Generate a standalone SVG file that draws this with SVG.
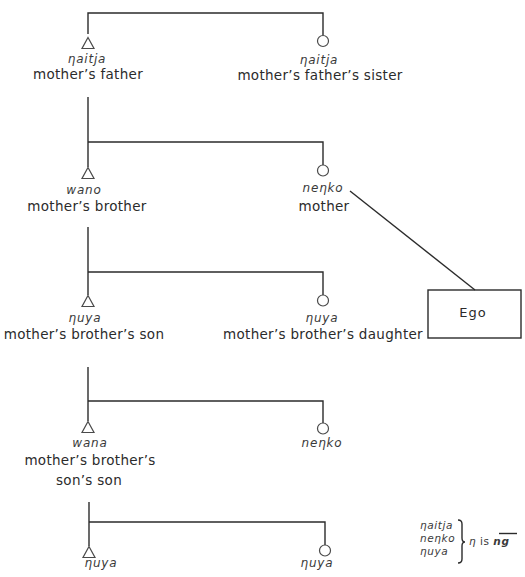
<svg xmlns="http://www.w3.org/2000/svg" xmlns:xlink="http://www.w3.org/1999/xlink" width="525" height="577" viewBox="0 0 525 577">
  <style>
    .ln { stroke: #2b2b2b; stroke-width: 1.4; fill: none; }
    .sym { stroke: #4a4a4a; stroke-width: 1.2; fill: #fff; }
    .lbl { font-family: "DejaVu Sans", "Liberation Sans", sans-serif; font-size: 13.5px; fill: #2b2b2b; text-anchor: middle; letter-spacing: 0.3px; }
    .term { font-family: "DejaVu Sans", "Liberation Sans", sans-serif; font-style: italic; font-size: 12px; fill: #3a3a3a; text-anchor: middle; letter-spacing: 0.8px; }
    .key { text-anchor: start; font-size: 10.5px; letter-spacing: 0.6px; }
    .ego { font-family: "DejaVu Sans", "Liberation Sans", sans-serif; font-size: 13px; fill: #2b2b2b; text-anchor: middle; letter-spacing: 1px; }
  </style>
  <defs>
    <!-- male: triangle centred on its use point -->
    <path id="male" d="M0,-5.5 L6,5.5 L-6,5.5 Z"/>
  </defs>
  <rect width="525" height="577" fill="#fff"/>

  <g id="connectors" class="ln">
    <path d="M88,34 V13 H323 V35"/>
    <path d="M88,97 V167"/>
    <path d="M88,142 H323 V165"/>
    <path d="M88,227 V295"/>
    <path d="M88,272 H323 V295"/>
    <path d="M88,367 V421"/>
    <path d="M88,401 H323 V423"/>
    <path d="M89,502 V546"/>
    <path d="M89,522 H325 V545"/>
    <path d="M350,191 L475,290"/>
  </g>

  <g id="mothers-father">
    <use xlink:href="#male" x="88" y="43" class="sym"/>
    <text class="term" x="87" y="63">ηaitja</text>
    <text class="lbl" x="88" y="79">mother’s father</text>
  </g>

  <g id="mothers-fathers-sister">
    <circle cx="323" cy="41" r="5.5" class="sym"/>
    <text class="term" x="319" y="64">ηaitja</text>
    <text class="lbl" x="320" y="80">mother’s father’s sister</text>
  </g>

  <g id="mothers-brother">
    <use xlink:href="#male" x="88" y="173" class="sym"/>
    <text class="term" x="84" y="194">wano</text>
    <text class="lbl" x="87" y="211">mother’s brother</text>
  </g>

  <g id="mother">
    <circle cx="323" cy="170.5" r="5.5" class="sym"/>
    <text class="term" x="323" y="192">neηko</text>
    <text class="lbl" x="324" y="211">mother</text>
  </g>

  <g id="ego">
    <rect x="428" y="290" width="93" height="48" class="ln"/>
    <text class="ego" x="473" y="317">Ego</text>
  </g>

  <g id="mothers-brothers-son">
    <use xlink:href="#male" x="88" y="301" class="sym"/>
    <text class="term" x="85" y="322">ηuya</text>
    <text class="lbl" x="84" y="339">mother’s brother’s son</text>
  </g>

  <g id="mothers-brothers-daughter">
    <circle cx="323" cy="300.5" r="5.5" class="sym"/>
    <text class="term" x="322" y="322">ηuya</text>
    <text class="lbl" x="323" y="339">mother’s brother’s daughter</text>
  </g>

  <g id="mothers-brothers-sons-son">
    <use xlink:href="#male" x="88" y="427" class="sym"/>
    <text class="term" x="90" y="447">wana</text>
    <text class="lbl" x="90" y="465">mother’s brother’s</text>
    <text class="lbl" x="89" y="485">son’s son</text>
  </g>

  <g id="nengko">
    <circle cx="323" cy="428.5" r="5.5" class="sym"/>
    <text class="term" x="322" y="447">neηko</text>
  </g>

  <g id="nguya-male">
    <use xlink:href="#male" x="89" y="552" class="sym"/>
    <text class="term" x="101" y="567">ηuya</text>
  </g>

  <g id="nguya-female">
    <circle cx="325" cy="550.5" r="5.5" class="sym"/>
    <text class="term" x="317" y="567">ηuya</text>
  </g>

  <g id="key">
    <text class="term key" x="420" y="529">ηaitja</text>
    <text class="term key" x="420" y="542">neηko</text>
    <text class="term key" x="420" y="555">ηuya</text>
    <path class="ln" stroke-width="1.1" d="M458,520 q4,0 4,4 V538 q0,4 3,4 q-3,0 -3,4 V559 q0,4 -4,4"/>
    <text class="term key" x="469" y="545">η<tspan font-style="normal" letter-spacing="0.5"> is </tspan><tspan font-weight="bold">ng</tspan></text>
    <path class="ln" stroke-width="1" d="M499,533.5 H517"/>
  </g>
</svg>
